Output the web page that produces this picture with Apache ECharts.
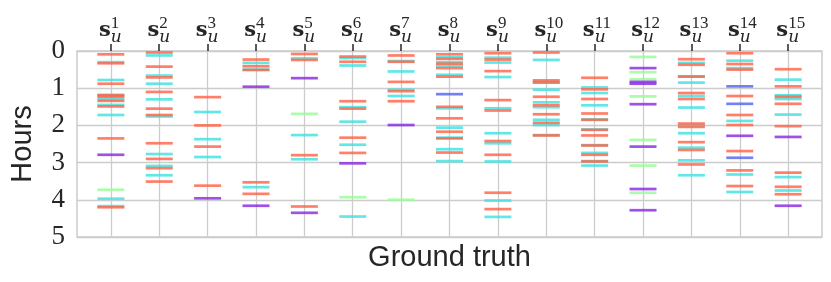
<!DOCTYPE html>
<html>
<head>
<meta charset="utf-8">
<script src="https://cdn.jsdelivr.net/npm/echarts@6/dist/echarts.min.js"></script>
<style>html,body{margin:0;padding:0;background:#fff;}#c{width:831px;height:282px;}</style>
</head>
<body>
<div id="c"></div>
<script>
// Column indices (s_u^1 ... s_u^15)
const columns = [1,2,3,4,5,6,7,8,9,10,11,12,13,14,15];
const yTicks = [0,1,2,3,4,5];

// Hours per column, one array per colour group
const redHours = [
  [0.09,0.33,0.88,1.19,1.23,1.34,1.49,2.35,4.20],
  [0.04,0.42,0.71,1.10,1.55,1.72,2.48,2.90,3.15,3.51],
  [1.24,2.00,2.57,3.62],
  [0.23,0.41,0.51,3.53,3.84],
  [0.08,0.24,2.80,4.18],
  [0.15,0.29,1.35,1.55,2.33,2.74],
  [0.12,0.29,0.83,1.08,1.35],
  [0.09,0.21,0.34,0.46,0.69,1.50,1.81,2.17,2.35,2.73],
  [0.06,0.23,0.54,1.32,1.60,2.42,2.79,3.81,4.25],
  [0.04,0.79,0.85,1.23,1.46,1.70,1.93,2.27],
  [0.72,1.03,1.29,1.68,1.85,2.12,2.27,2.54,2.79,2.97],
  [],
  [0.22,0.37,0.69,1.13,1.29,1.95,2.04,2.45,2.66,3.05],
  [0.06,0.35,0.50,1.21,1.72,1.99,2.69,3.21,3.63],
  [0.49,0.95,1.23,1.42,2.02,3.27,3.65,3.85]
];
const cyanHours = [
  [0.30,0.78,1.18,1.30,1.45,1.72,3.97,4.17],
  [0.12,0.66,0.88,1.30,1.76,2.77,3.09,3.34],
  [1.64,2.37,2.85],
  [0.32,0.50,3.66],
  [0.20,2.26,2.91],
  [0.19,0.39,1.51,1.90,2.52,4.45],
  [0.27,0.55,1.04,1.21],
  [0.17,0.30,0.40,0.64,1.54,2.06,2.33,2.64,2.96],
  [0.18,0.31,0.70,1.54,2.21,2.48,2.97,4.02,4.46],
  [0.24,0.83,1.04,1.38,1.51,1.85,1.99,2.26],
  [0.98,1.13,1.46,1.84,2.11,2.53,2.74,2.96,3.08],
  [],
  [0.32,0.68,0.85,1.21,1.52,2.00,2.21,2.60,2.94,3.34],
  [0.26,0.46,1.88,3.32,3.79],
  [0.77,1.19,1.29,1.71,3.39,3.75]
];
const greenHours = [
  [3.73],[],[],[],[1.69],[3.93],[4.00],[],[],[],[],
  [0.16,0.57,0.76,1.22,2.39,3.08,3.81],
  [],[],[]
];
const purpleHours = [
  [2.79],[],[3.96],[0.96,4.16],[0.73,4.35],[3.02],[1.99],[],[],[],[],
  [0.46,0.83,0.88,1.43,2.57,3.71,4.28],
  [],[2.28],[2.31,4.16]
];
const blueHours = [
  [],[],[],[],[],[],[],[1.16],[],[],[],[],[],[0.95,1.42,2.87],[]
];

const groups = [
  {hours: cyanHours,   color: '#40e0e0'},
  {hours: redHours,    color: '#ff6347'},
  {hours: greenHours,  color: '#98fb98'},
  {hours: purpleHours, color: '#8a2be2'},
  {hours: blueHours,   color: '#5566ee'}
];

function toPoints(hours) {
  const pts = [];
  hours.forEach((list, i) => list.forEach(h => pts.push([columns[i], h])));
  return pts;
}

const series = groups.map(g => ({
  type: 'scatter',
  xAxisIndex: 0,
  yAxisIndex: 0,
  symbol: 'rect',
  symbolSize: [27, 2.7],
  itemStyle: {color: g.color, opacity: 0.82},
  emphasis: {disabled: true},
  silent: true,
  data: toPoints(g.hours)
}));

const chart = echarts.init(document.getElementById('c'), null, {renderer: 'canvas'});
const xMin = 0.3, xMax = 15.7;
chart.setOption({
  animation: false,
  backgroundColor: '#ffffff',
  grid: {left: 73, right: 9, top: 51, bottom: 45, show: true, borderColor: '#cccccc', borderWidth: 1.5, containLabel: false},
  xAxis: [
    {
      type: 'value', position: 'top', min: xMin, max: xMax,
      axisLine: {show: false},
      axisTick: {show: true, customValues: columns, length: 7, lineStyle: {color: '#262626', width: 1.5}},
      splitLine: {show: true, lineStyle: {color: '#cccccc', width: 1.3}},
      axisLabel: {
        show: true, customValues: columns, margin: 10, align: 'right', verticalAlign: 'bottom',
        formatter: () => '{s|s}',
        rich: {s: {fontFamily: 'DejaVu Serif', fontWeight: 'bold', fontSize: 21, color: '#262626'}}
      }
    },
    {
      type: 'value', position: 'top', min: xMin, max: xMax,
      axisLine: {show: false}, axisTick: {show: false}, splitLine: {show: false},
      axisLabel: {
        show: true, customValues: columns, margin: 6, align: 'left', verticalAlign: 'bottom',
        formatter: v => '{n|' + v + '}\n{u|u}',
        rich: {
          n: {fontFamily: 'Liberation Serif', fontSize: 17, lineHeight: 14, color: '#262626'},
          u: {fontFamily: 'DejaVu Serif', fontStyle: 'italic', fontSize: 17, lineHeight: 14, color: '#262626'}
        }
      }
    },
    {
      type: 'value', position: 'bottom', min: xMin, max: xMax,
      axisLine: {show: false}, axisTick: {show: false}, splitLine: {show: false},
      axisLabel: {show: false},
      name: 'Ground truth', nameLocation: 'middle', nameGap: 6,
      nameTextStyle: {fontFamily: 'Liberation Sans', fontSize: 29, color: '#262626', verticalAlign: 'top'}
    }
  ],
  yAxis: {
    type: 'value', inverse: true, min: 0, max: 5, interval: 1,
    axisLine: {show: false}, axisTick: {show: false},
    splitLine: {show: true, lineStyle: {color: '#cccccc', width: 1.3}},
    axisLabel: {
      margin: 12, fontFamily: 'Liberation Serif', fontSize: 27, color: '#262626',
      customValues: yTicks,
      formatter: v => String(v)
    },
    name: 'Hours', nameLocation: 'middle', nameGap: 40, nameRotate: 90,
    nameTextStyle: {fontFamily: 'Liberation Sans', fontSize: 29, color: '#262626'}
  },
  series: series
});
</script>
</body>
</html>
